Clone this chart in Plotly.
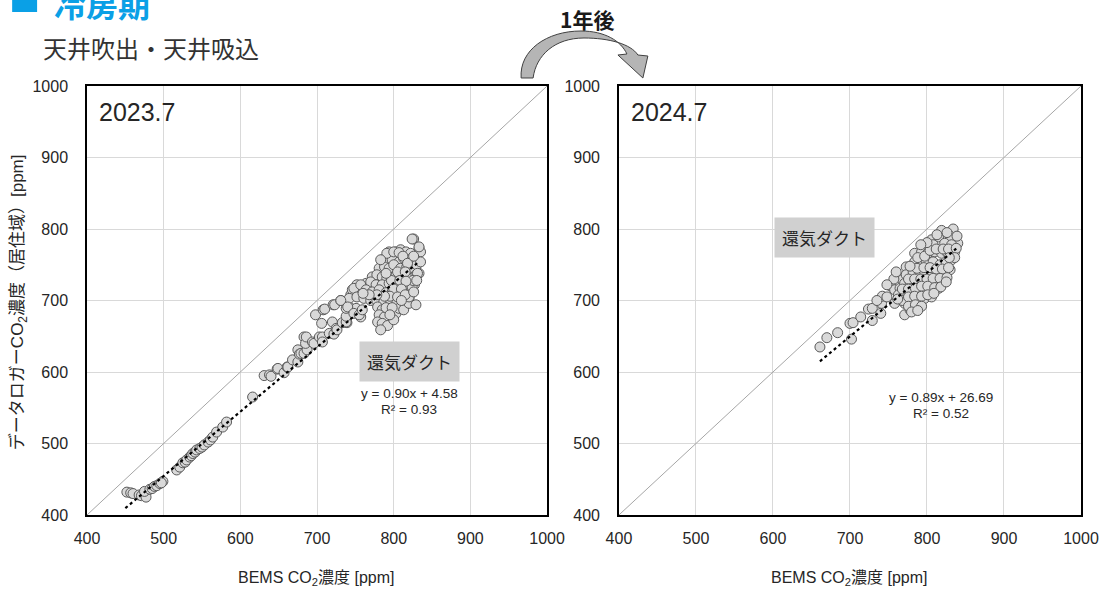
import plotly.graph_objects as go

# ---------------- data ----------------
x_2023 = [452, 457, 460, 468, 471, 477, 475, 482, 485, 488, 491, 495, 499, 497,
          517, 521, 525, 528, 530, 534, 536, 538, 541, 543, 547, 550, 553, 558, 561, 564, 569, 577, 582, 616,
          631, 638, 640, 648, 649, 657, 661, 662, 668, 675, 675, 677, 679, 683, 687, 683, 685, 686, 694, 696,
          703, 707, 707, 698, 708, 706, 710, 716, 722, 720, 725, 726, 733, 739, 738, 738, 742, 721, 723, 731,
          744, 748, 752, 751, 738, 751, 757, 746,
          826, 833, 794, 803, 809, 816, 822, 785, 791, 798, 807, 813, 820, 829,
          781, 788, 794, 800, 809, 817, 824, 830, 833, 772, 778, 785, 791, 803, 811, 820, 829,
          764, 770, 777, 785, 794, 803, 811, 820, 827, 748, 757, 764, 772, 781, 790, 798, 807, 816, 822,
          742, 752, 761, 770, 778, 787, 796, 804, 813, 820, 731, 740, 748, 755, 759,
          779, 785, 781, 788, 779, 785, 792, 783, 803, 800, 807, 813, 820, 829,
          835, 835, 831, 824, 820, 824, 833, 791, 800, 807, 783,
          812, 818, 826, 805, 815, 825, 797, 790, 808, 816, 800, 810, 795, 805, 815, 826, 830, 790, 798, 795,
          810, 788, 778, 768, 760]
y_2023 = [432, 431, 430, 428, 427, 425, 433, 436, 437, 440, 441, 444, 447, 445,
          463, 467, 473, 474, 477, 481, 483, 486, 488, 491, 493, 495, 498, 502, 505, 509, 516, 523, 530, 565,
          595, 596, 594, 604, 605, 599, 607, 607, 617, 614, 631, 625, 626, 626, 631, 649, 640, 649, 642, 640,
          649, 649, 642, 680, 687, 668, 688, 654, 653, 670, 661, 659, 669, 669, 670, 678, 691, 694, 694, 700,
          708, 715, 722, 687, 689, 689, 677, 715,
          786, 773, 768, 768, 771, 768, 766, 757, 759, 757, 754, 759, 757, 757,
          745, 747, 745, 750, 745, 747, 745, 750, 738, 733, 736, 733, 731, 736, 733, 731, 736,
          724, 726, 722, 722, 724, 722, 724, 719, 722, 717, 722, 715, 712, 715, 711, 712, 711, 715, 711,
          703, 705, 703, 700, 700, 698, 700, 696, 698, 703, 700, 691, 682, 680, 687,
          691, 687, 680, 677, 670, 668, 665, 659, 682, 673, 689, 687, 696, 694,
          768, 754, 738, 719, 705, 786, 775, 766, 768, 767, 757,
          762, 752, 762, 740, 740, 728, 728, 738, 728, 727, 716, 716, 706, 705, 708, 712, 728, 690, 690, 680,
          700, 706, 708, 708, 710]

x_2024 = [661, 670, 684, 702, 700, 704, 714, 724, 729, 729, 740, 741, 742, 753, 758, 758, 765, 768, 773,
          834, 819, 830, 840, 806, 815, 799, 808, 823, 832,
          784, 793, 801, 810, 819, 827, 836, 784, 793, 799, 808, 817, 825, 832,
          773, 782, 791, 797, 806, 815, 823, 830, 771, 778, 786, 795, 804, 812, 821,
          763, 771, 780, 789, 797, 806, 815, 771, 780, 789, 797, 806, 771, 778, 784,
          788, 797, 804, 812, 821, 828, 838, 787, 796, 804, 812, 820, 828, 836, 839, 826, 813, 800, 792,
          778, 776, 784, 792, 800, 808, 817, 826, 768, 776, 785, 793, 801, 810, 818, 825, 829,
          768, 776, 784, 793, 801, 809, 776, 785, 793, 780, 788, 762, 757, 760, 748, 748, 735]
y_2024 = [635, 648, 655, 646, 668, 669, 677, 688, 689, 672, 682, 696, 706, 720, 715, 696, 717, 729, 747,
          800, 798, 790, 780, 785, 789, 775, 778, 780, 778,
          766, 768, 766, 768, 766, 766, 768, 754, 757, 752, 754, 750, 752, 757,
          736, 740, 738, 740, 738, 736, 738, 743, 724, 726, 722, 726, 722, 724, 729,
          708, 710, 712, 710, 715, 712, 717, 696, 700, 698, 703, 705, 680, 687, 691,
          760, 762, 770, 772, 772, 772, 773, 745, 746, 746, 744, 744, 746, 760, 790, 795, 792, 781, 778,
          748, 730, 730, 730, 730, 731, 731, 732, 716, 716, 717, 720, 720, 718, 719, 726, 760,
          700, 705, 706, 706, 708, 710, 692, 694, 692, 684, 686, 702, 730, 740, 705, 722, 700]

slope_2023, icpt_2023 = 0.90, 4.58
slope_2024, icpt_2024 = 0.89, 26.69
trend_x_2023 = [450, 833]
trend_x_2024 = [661, 838]
diag = [400, 1000]
tick_vals = [400, 500, 600, 700, 800, 900, 1000]

# ---------------- layout helpers ----------------
W, H = 1111, 590
L, R, T, B = 87, 28, 86, 75
PW, PH = W - L - R, H - T - B


def px(v):
    return (v - L) / PW


def py(v):
    return (H - B - v) / PH


FONT = "Liberation Sans, Arial, Noto Sans CJK JP, sans-serif"
JFONT = "Noto Sans CJK JP, Liberation Sans, sans-serif"

fig = go.Figure()

for xs, ys, slope, icpt, tx, ax in [
    (x_2023, y_2023, slope_2023, icpt_2023, trend_x_2023, ("x", "y")),
    (x_2024, y_2024, slope_2024, icpt_2024, trend_x_2024, ("x2", "y2")),
]:
    fig.add_trace(go.Scatter(x=diag, y=diag, mode="lines", xaxis=ax[0], yaxis=ax[1],
                             line=dict(color="#a6a6a6", width=1), hoverinfo="skip", showlegend=False))
    fig.add_trace(go.Scatter(x=xs, y=ys, mode="markers", xaxis=ax[0], yaxis=ax[1],
                             marker=dict(size=10, color="#d9d9d9", line=dict(color="#595959", width=1)),
                             showlegend=False))
    fig.add_trace(go.Scatter(x=tx, y=[slope * v + icpt for v in tx], mode="lines", xaxis=ax[0], yaxis=ax[1],
                             line=dict(color="black", width=2.2, dash="dot"), hoverinfo="skip", showlegend=False))

axis_common = dict(range=[400, 1000], tickvals=tick_vals, showgrid=True, gridcolor="#d9d9d9", gridwidth=1,
                   showline=True, linecolor="black", linewidth=1.5, mirror=True, zeroline=False,
                   ticks="", ticklabelstandoff=8, tickfont=dict(size=16, color="#262626", family=FONT))
yaxis_common = dict(axis_common, ticklabelstandoff=14)

fig.update_layout(
    width=W, height=H,
    margin=dict(l=L, r=R, t=T, b=B),
    paper_bgcolor="white", plot_bgcolor="white",
    font=dict(family=FONT, color="#262626"),
    xaxis=dict(domain=[0, px(548)], anchor="y", **axis_common),
    yaxis=dict(domain=[0, 1], anchor="x", **yaxis_common),
    xaxis2=dict(domain=[px(620), 1], anchor="y2", **axis_common),
    yaxis2=dict(domain=[0, 1], anchor="x2", **yaxis_common),
)

ann = []


def add_text(text, x, y, size, xanchor="center", yanchor="middle", color="#262626", family=FONT, **kw):
    ann.append(dict(text=text, x=px(x), y=py(y), xref="paper", yref="paper", showarrow=False,
                    xanchor=xanchor, yanchor=yanchor, font=dict(size=size, color=color, family=family), **kw))


# year labels
add_text("2023.7", 97, 112, 25, xanchor="left")
add_text("2024.7", 630, 112, 25, xanchor="left")
# duct labels
add_text("還気ダクト", 410, 361.5, 17, family=JFONT, bgcolor="#d0d0d0", borderpad=7)
add_text("還気ダクト", 826, 237.5, 17, family=JFONT, bgcolor="#d0d0d0", borderpad=7)
# equations
add_text("y = 0.90x + 4.58", 410, 393, 13.5)
add_text("R² = 0.93", 410, 409, 13.5)
add_text("y = 0.89x + 26.69", 943, 397, 13.5)
add_text("R² = 0.52", 943, 413, 13.5)
# axis titles
add_text("BEMS CO<sub>2</sub>濃度 [ppm]", 317, 578, 16)
add_text("BEMS CO<sub>2</sub>濃度 [ppm]", 851, 578, 16)
add_text("データロガーCO<sub>2</sub>濃度（居住域）[ppm]", 18, 302, 17, textangle=-90)
# titles
add_text("<b>冷房期</b>", 52, 3, 32, xanchor="left", color="#0aa0e6", family=JFONT)
add_text("天井吹出・天井吸込", 41, 47, 24, xanchor="left", color="#333333", family=JFONT)
add_text("<b>1年後</b>", 588, 19, 21, family=JFONT, color="#1a1a1a")

fig.update_layout(annotations=ann)

# blue square of the title
shapes = [dict(type="rect", xref="paper", yref="paper", x0=px(12), x1=px(37), y0=py(12), y1=py(-13),
               fillcolor="#0aa0e6", line=dict(width=0))]

# curved arrow
pts = [("M", [(522, 78)]),
       ("C", [(520, 50), (548, 31), (582, 31)]),
       ("C", [(606, 31), (622, 41), (628, 54)]),
       ("L", [(619, 55)]),
       ("L", [(644, 78)]),
       ("L", [(649, 56)]),
       ("L", [(639, 55)]),
       ("C", [(632, 44), (610, 38), (585, 38)]),
       ("C", [(556, 38), (537, 55), (534, 78)])]
path = " ".join(cmd + " " + " ".join(f"{px(a):.5f},{py(b):.5f}" for a, b in p) for cmd, p in pts) + " Z"
shapes.append(dict(type="path", xref="paper", yref="paper", path=path,
                   fillcolor="#b5b5b5", line=dict(color="#404040", width=1)))
fig.update_layout(shapes=shapes)

fig.write_html("out.html")
